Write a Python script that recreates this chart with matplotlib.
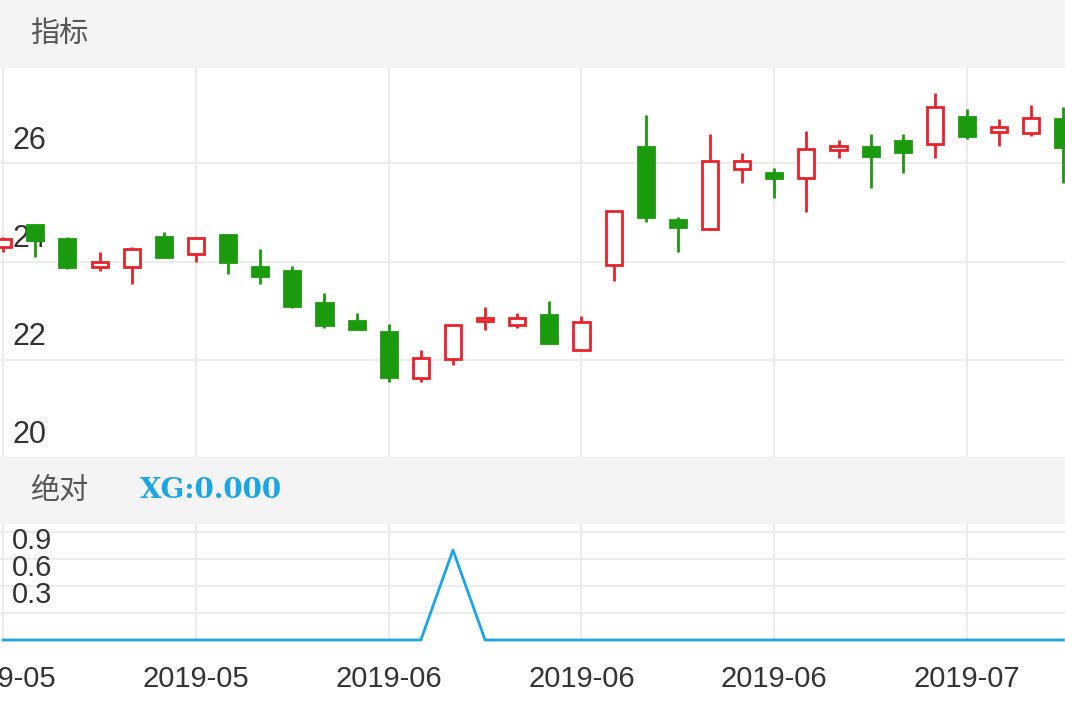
import matplotlib.pyplot as plt
from matplotlib.patches import Rectangle

plt.rcParams["font.family"] = ["Noto Sans CJK SC", "DejaVu Sans"]

opens = [24.30, 24.75, 24.45, 23.88, 23.88, 24.50, 24.15, 24.53, 23.88, 23.80, 23.16, 22.78,
         22.57, 21.63, 22.02, 22.78, 22.70, 22.92, 22.20, 23.92, 26.33, 24.84, 24.67, 25.88,
         25.80, 25.70, 26.27, 26.33, 26.45, 26.40, 26.94, 26.63, 26.61, 26.90]
closes = [24.45, 24.43, 23.88, 24.00, 24.25, 24.10, 24.47, 24.00, 23.70, 23.10, 22.70, 22.63,
          21.65, 22.04, 22.70, 22.86, 22.86, 22.35, 22.76, 25.02, 24.90, 24.70, 26.04, 26.04,
          25.70, 26.30, 26.35, 26.14, 26.22, 27.14, 26.55, 26.73, 26.92, 26.33]
highs = [24.50, 24.75, 24.50, 24.20, 24.30, 24.60, 24.47, 24.53, 24.25, 23.90, 23.35, 22.95,
         22.72, 22.20, 22.70, 23.08, 22.95, 23.20, 22.90, 25.02, 26.98, 24.90, 26.60, 26.20,
         25.90, 26.65, 26.47, 26.60, 26.60, 27.43, 27.10, 26.90, 27.18, 27.14]
lows = [24.20, 24.10, 23.85, 23.80, 23.55, 24.10, 24.00, 23.75, 23.55, 23.05, 22.65, 22.60,
        21.55, 21.55, 21.90, 22.60, 22.65, 22.35, 22.20, 23.60, 24.80, 24.20, 24.67, 25.60,
        25.30, 25.00, 26.10, 25.50, 25.80, 26.10, 26.50, 26.35, 26.55, 25.60]
xg = [0] * 34
xg[14] = 1.0
tick_pos = [0, 6, 12, 18, 24, 30]
tick_labels = ["2019-05", "2019-05", "2019-06", "2019-06", "2019-06", "2019-07"]
price_ticks = [20, 22, 24, 26]
xg_ticks = [0.3, 0.6, 0.9]

RED, GREEN, BLUE, GRID = "#e8232a", "#1a9a0c", "#1aa6e4", "#ececec"
NUM_FONT = ["Liberation Sans", "DejaVu Sans"]
W, H = 1065, 708
fig = plt.figure(figsize=(W / 100, H / 100), dpi=100)

def band(y0, y1):
    a = fig.add_axes([0, 1 - y1 / H, 1, (y1 - y0) / H])
    a.set_facecolor("#f4f4f4")
    a.set_xticks([]); a.set_yticks([])
    for s in a.spines.values():
        s.set_visible(False)
    return a

b1 = band(0, 68)
b1.text(30 / W, 0.5, "指标", transform=b1.transAxes, fontsize=21, color="#555", va="center")
b2 = band(458, 524)
b2.text(30 / W, 0.5, "绝对", transform=b2.transAxes, fontsize=21, color="#555", va="center")
b2.text(140 / W, 0.5, "XG:0.000", transform=b2.transAxes, fontsize=20, color=BLUE,
        va="center", fontweight="bold", family="DejaVu Serif")

xlim = (-0.1, 33.05)
ax = fig.add_axes([0, 1 - 458 / H, 1, (458 - 68) / H])
ax2 = fig.add_axes([0, 1 - 640 / H, 1, (640 - 524) / H])
for a in (ax, ax2):
    a.set_xlim(*xlim)
    for s in a.spines.values():
        s.set_visible(False)
    a.set_yticks([])
    a.set_xticks(tick_pos)
    a.tick_params(length=0)
    a.grid(axis="x", color=GRID, lw=1.5)
ax.set_xticklabels([])
ax2.set_xticklabels(tick_labels, fontsize=21, color="#333", family=NUM_FONT)
ax2.tick_params(axis="x", pad=18)

xtxt = 12 / W * (xlim[1] - xlim[0]) + xlim[0]
ax.set_ylim(20, 27.94)
for p in price_ticks:
    ax.axhline(p, color=GRID, lw=1.5, zorder=0)
    ax.text(xtxt, p + 0.3, str(p), fontsize=22, color="#333", family=NUM_FONT)

for i, (o, c, h, l) in enumerate(zip(opens, closes, highs, lows)):
    up = c >= o
    col = RED if up else GREEN
    ax.vlines(i, l, min(o, c), color=col, lw=2)
    ax.vlines(i, max(o, c), h, color=col, lw=2)
    ax.add_patch(Rectangle((i - 0.25, min(o, c)), 0.5, max(abs(c - o), 0.04),
                           facecolor="white" if up else col, edgecolor=col, lw=2, zorder=3))

ax2.set_ylim(0, 1.29)
for v in [0.3, 0.6, 0.9, 1.2]:
    ax2.axhline(v, color=GRID, lw=1.5, zorder=0)
for v in xg_ticks:
    ax2.text(xtxt, v + 0.05, str(v), fontsize=21, color="#333", va="bottom", family=NUM_FONT)
ax2.plot(range(34), xg, color=BLUE, lw=2, clip_on=False)

fig.savefig("out.png", dpi=100)
